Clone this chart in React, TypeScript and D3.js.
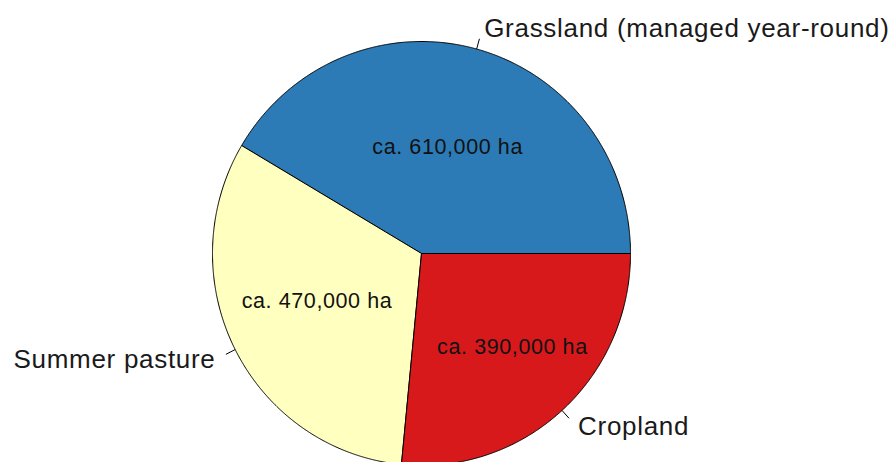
import React, { useEffect, useRef } from 'react';
import * as d3 from 'd3';

const categories = ['Grassland (managed year-round)', 'Summer pasture', 'Cropland'];
const areas = [610000, 470000, 390000];
const innerLabels = ['ca. 610,000 ha', 'ca. 470,000 ha', 'ca. 390,000 ha'];
const colors = ['#2c7bb6', '#ffffbf', '#d7191c'];
// inside label positions in pie units (radius = 1), like text(x, y) on the pie plot
const innerLabelX = [0.125, -0.5, 0.435];
const innerLabelY = [0.505, -0.22, -0.437];

const App: React.FC = () => {
    const svgRef = useRef<SVGSVGElement>(null);

    useEffect(() => {
        if (!svgRef.current) return;
        const svg = d3.select(svgRef.current);
        svg.selectAll('*').remove();

        const width = 894;
        const height = 462;
        const cx = 421.5;
        const cy = 253.5;
        const rx = 209;
        const ry = 212;

        const x = d3.scaleLinear().domain([-1, 1]).range([cx - rx, cx + rx]);
        const y = d3.scaleLinear().domain([-1, 1]).range([cy + ry, cy - ry]);

        // base R pie: starts at 3 o'clock, goes counter-clockwise
        const total = d3.sum(areas);
        const angle = d3.scaleLinear().domain([0, total]).range([0, 2 * Math.PI]);
        const starts = d3.cumsum([0, ...areas.slice(0, -1)]);
        const slices = areas.map((v, i) => ({
            a0: angle(starts[i]),
            a1: angle(starts[i] + v),
            i,
        }));

        const pt = (a: number, f: number): [number, number] => [
            x(f * Math.cos(a)),
            y(f * Math.sin(a)),
        ];

        const font = '"Liberation Sans", Arial, sans-serif';
        const g = svg.append('g');

        // slices, edge traced along the (slightly oval) outline
        slices.forEach(s => {
            const n = Math.max(8, Math.ceil((s.a1 - s.a0) / 0.005));
            const pts: [number, number][] = [[x(0), y(0)]];
            for (let k = 0; k <= n; k++) {
                pts.push(pt(s.a0 + ((s.a1 - s.a0) * k) / n, 1));
            }
            g.append('path')
                .attr('d', d3.line()(pts) + 'Z')
                .attr('fill', colors[s.i])
                .attr('stroke', '#000')
                .attr('stroke-width', 1)
                .attr('stroke-linejoin', 'round');
        });

        // tick lines and outer labels
        slices.forEach(s => {
            const mid = (s.a0 + s.a1) / 2;
            const p1 = pt(mid, 1);
            const p2 = pt(mid, 1.05);
            g.append('line')
                .attr('x1', p1[0]).attr('y1', p1[1])
                .attr('x2', p2[0]).attr('y2', p2[1])
                .attr('stroke', '#000')
                .attr('stroke-width', 1);
            const lp = pt(mid, 1.1);
            const right = Math.cos(mid) > 0;
            g.append('text')
                .attr('x', right ? lp[0] + 2 : lp[0] - 1)
                .attr('y', lp[1])
                .attr('dy', '0.33em')
                .attr('text-anchor', right ? 'start' : 'end')
                .attr('font-family', font)
                .attr('font-size', 26)
                .attr('letter-spacing', 0.7)
                .attr('fill', '#1a1a1a')
                .text(categories[s.i]);
        });

        // inside labels
        slices.forEach(s => {
            g.append('text')
                .attr('x', x(innerLabelX[s.i]))
                .attr('y', y(innerLabelY[s.i]))
                .attr('dy', '0.36em')
                .attr('text-anchor', 'middle')
                .attr('font-family', font)
                .attr('font-size', 21.5)
                .attr('letter-spacing', 0.6)
                .attr('fill', '#111')
                .text(innerLabels[s.i]);
        });

        svg.attr('width', width).attr('height', height);
    }, []);

    return (
        <div style={{ position: 'fixed', left: 0, top: 0, width: 894, height: 462, background: '#fff', overflow: 'hidden' }}>
            <svg ref={svgRef} width={894} height={462} style={{ display: 'block' }} />
        </div>
    );
};

export default App;
